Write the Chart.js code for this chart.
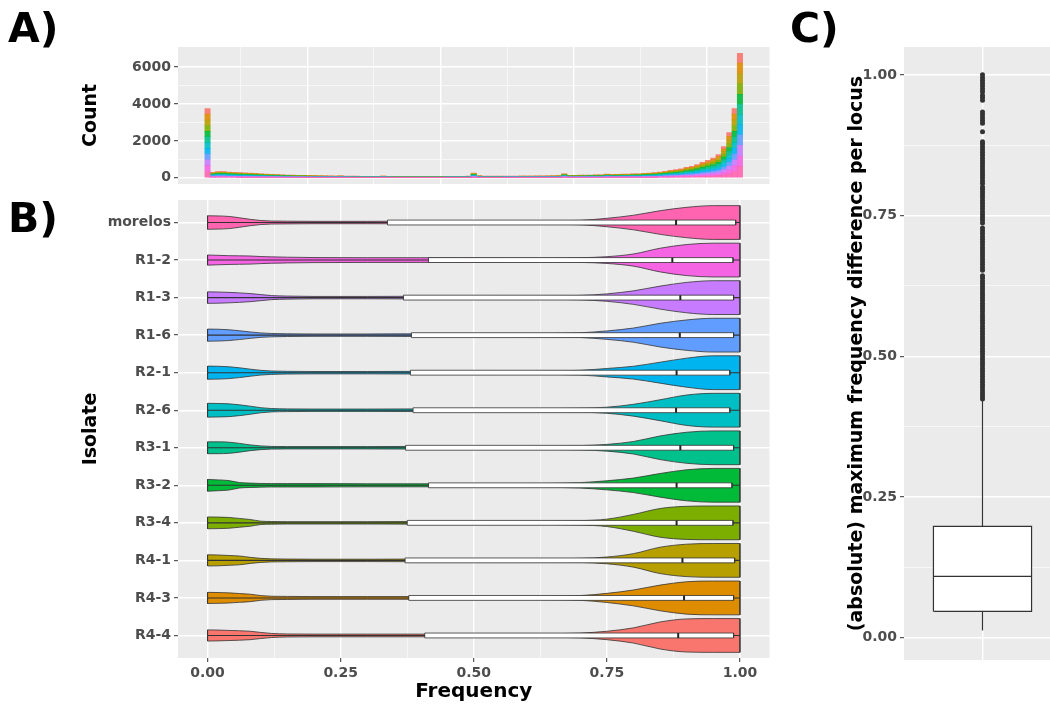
<!DOCTYPE html>
<html>
<head>
<meta charset="utf-8">
<script src="https://cdn.jsdelivr.net/npm/chart.js@4.4.1/dist/chart.umd.min.js"></script>
<style>
html, body { margin: 0; padding: 0; background: #fff; width: 1050px; height: 708px; overflow: hidden; position: relative; }
canvas { position: absolute; left: 0; top: 0; }
.tag { position: absolute; font: bold 41px "DejaVu Sans"; line-height: 41px; color: #000; z-index: 5; }
</style>
</head>
<body>
<canvas id="hist" width="1050" height="708"></canvas>
<canvas id="violin" width="1050" height="708"></canvas>
<canvas id="box" width="1070" height="708"></canvas>
<div class="tag" style="left:8px;top:8px">A)</div>
<div class="tag" style="left:8px;top:198px">B)</div>
<div class="tag" style="left:790px;top:8px">C)</div>
<script>
// isolates, top to bottom as in the figure
var isolates = ['morelos', 'R1-2', 'R1-3', 'R1-6', 'R2-1', 'R2-6', 'R3-1', 'R3-2', 'R3-4', 'R4-1', 'R4-3', 'R4-4'];
var isolateColors = ['#FF64B0', '#F564E3', '#C77CFF', '#619CFF', '#00B4F0', '#00BFC4', '#00C08B', '#00BA38', '#7CAE00', '#B79F00', '#DE8C00', '#F8766D'];

// A) histogram of allele frequency (bin centres, total count per bin, share of each isolate)
var binCenters = [0, 0.01, 0.02, 0.03, 0.04, 0.05, 0.06, 0.07, 0.08, 0.09,
    0.10, 0.11, 0.12, 0.13, 0.14, 0.15, 0.16, 0.17, 0.18, 0.19,
    0.20, 0.21, 0.22, 0.23, 0.24, 0.25, 0.26, 0.27, 0.28, 0.29,
    0.30, 0.31, 0.32, 0.33, 0.34, 0.35, 0.36, 0.37, 0.38, 0.39,
    0.40, 0.41, 0.42, 0.43, 0.44, 0.45, 0.46, 0.47, 0.48, 0.49,
    0.50, 0.51, 0.52, 0.53, 0.54, 0.55, 0.56, 0.57, 0.58, 0.59,
    0.60, 0.61, 0.62, 0.63, 0.64, 0.65, 0.66, 0.67, 0.68, 0.69,
    0.70, 0.71, 0.72, 0.73, 0.74, 0.75, 0.76, 0.77, 0.78, 0.79,
    0.80, 0.81, 0.82, 0.83, 0.84, 0.85, 0.86, 0.87, 0.88, 0.89,
    0.90, 0.91, 0.92, 0.93, 0.94, 0.95, 0.96, 0.97, 0.98, 0.99, 1.00];
var binCounts = [3750, 290, 340, 330, 310, 295, 280, 265, 250, 235,
    220, 200, 185, 170, 160, 150, 140, 135, 130, 125,
    115, 110, 105, 100, 95, 105, 90, 85, 85, 80,
    80, 75, 75, 95, 75, 70, 70, 70, 70, 70,
    70, 70, 70, 70, 70, 75, 75, 75, 80, 85,
    250, 110, 85, 85, 85, 85, 90, 90, 90, 95,
    95, 95, 100, 100, 105, 110, 115, 210, 130, 135,
    140, 145, 150, 160, 165, 200, 180, 185, 195, 200,
    210, 220, 240, 260, 280, 310, 354, 408, 445, 483,
    568, 622, 713, 837, 944, 1072, 1250, 1695, 2445, 3753, 6750];
var isolateShares = [0.09, 0.085, 0.085, 0.085, 0.08, 0.08, 0.085, 0.08, 0.085, 0.08, 0.085, 0.08];
var countTicks = [0, 2000, 4000, 6000];
var countMinor = [1000, 3000, 5000];
var freqTicks = [0, 0.25, 0.5, 0.75, 1];
var freqMinor = [0.125, 0.375, 0.625, 0.875];

// B) violins: half width (relative to the widest) at each frequency
var violinX = [0, 0.02, 0.04, 0.06, 0.08, 0.10, 0.12, 0.15, 0.2, 0.3, 0.4, 0.5, 0.6, 0.7, 0.75, 0.8, 0.85, 0.9, 0.95, 1.0];
var violinWidths = [
    [0.40, 0.39, 0.36, 0.28, 0.19, 0.12, 0.09, 0.08, 0.07, 0.07, 0.08, 0.08, 0.09, 0.13, 0.25, 0.43, 0.70, 0.90, 1.00, 1.00],
    [0.30, 0.28, 0.26, 0.25, 0.24, 0.21, 0.19, 0.17, 0.15, 0.14, 0.14, 0.13, 0.12, 0.14, 0.20, 0.36, 0.70, 0.92, 1.00, 1.00],
    [0.34, 0.33, 0.31, 0.28, 0.24, 0.18, 0.12, 0.09, 0.07, 0.07, 0.08, 0.08, 0.09, 0.13, 0.22, 0.40, 0.68, 0.90, 1.00, 1.00],
    [0.36, 0.35, 0.32, 0.26, 0.19, 0.13, 0.10, 0.08, 0.07, 0.07, 0.08, 0.08, 0.09, 0.14, 0.25, 0.42, 0.70, 0.90, 1.00, 1.00],
    [0.39, 0.38, 0.35, 0.29, 0.21, 0.14, 0.10, 0.08, 0.07, 0.07, 0.08, 0.08, 0.09, 0.14, 0.25, 0.38, 0.62, 0.86, 1.00, 1.00],
    [0.41, 0.40, 0.38, 0.32, 0.24, 0.15, 0.10, 0.08, 0.07, 0.07, 0.08, 0.08, 0.09, 0.12, 0.18, 0.35, 0.62, 0.90, 1.00, 1.00],
    [0.35, 0.35, 0.33, 0.26, 0.17, 0.11, 0.08, 0.07, 0.07, 0.07, 0.08, 0.08, 0.09, 0.13, 0.20, 0.37, 0.70, 0.92, 1.00, 1.00],
    [0.35, 0.32, 0.28, 0.16, 0.13, 0.11, 0.10, 0.10, 0.10, 0.09, 0.09, 0.09, 0.10, 0.16, 0.27, 0.43, 0.70, 0.92, 1.00, 1.00],
    [0.35, 0.34, 0.32, 0.26, 0.20, 0.10, 0.08, 0.07, 0.07, 0.07, 0.08, 0.08, 0.09, 0.13, 0.22, 0.50, 0.85, 0.98, 1.00, 1.00],
    [0.33, 0.32, 0.29, 0.26, 0.18, 0.12, 0.09, 0.08, 0.07, 0.07, 0.08, 0.08, 0.09, 0.12, 0.20, 0.40, 0.78, 0.96, 1.00, 1.00],
    [0.33, 0.32, 0.30, 0.26, 0.22, 0.14, 0.10, 0.09, 0.08, 0.08, 0.08, 0.08, 0.09, 0.14, 0.27, 0.47, 0.76, 0.96, 1.00, 1.00],
    [0.33, 0.32, 0.30, 0.28, 0.25, 0.18, 0.12, 0.09, 0.08, 0.08, 0.08, 0.08, 0.09, 0.14, 0.25, 0.45, 0.80, 0.98, 1.00, 1.00]
];
var freqMin = [0, 0, 0, 0, 0, 0, 0, 0, 0, 0, 0, 0];
var freqQ1 = [0.338, 0.415, 0.368, 0.383, 0.381, 0.386, 0.372, 0.415, 0.375, 0.371, 0.378, 0.408];
var freqMedian = [0.880, 0.873, 0.888, 0.887, 0.881, 0.880, 0.888, 0.881, 0.881, 0.892, 0.895, 0.884];
var freqQ3 = [0.992, 0.987, 0.988, 0.988, 0.981, 0.981, 0.988, 0.985, 0.987, 0.990, 0.988, 0.988];
var freqMax = [1, 1, 1, 1, 1, 1, 1, 1, 1, 1, 1, 1];

// C) max frequency difference per locus
var diffBox = [0.047, 0.109, 0.198];      // q1, median, q3
var diffWhiskers = [0.013, 0.424];
var diffOutliers = [0.424, 0.429, 0.434, 0.439, 0.444, 0.449, 0.454, 0.459, 0.464, 0.469,
    0.474, 0.479, 0.484, 0.489, 0.494, 0.499, 0.504, 0.509, 0.514, 0.519,
    0.524, 0.529, 0.534, 0.539, 0.544, 0.549, 0.554, 0.559, 0.564, 0.569,
    0.574, 0.579, 0.584, 0.589, 0.594, 0.599, 0.604, 0.609, 0.614, 0.619,
    0.624, 0.629, 0.634, 0.639, 0.643, 0.653, 0.658, 0.663, 0.668, 0.673,
    0.678, 0.683, 0.688, 0.693, 0.698, 0.703, 0.708, 0.713, 0.718, 0.723, 0.728,
    0.737, 0.742, 0.747, 0.752, 0.757, 0.762, 0.767, 0.772, 0.777, 0.782, 0.787, 0.792, 0.797, 0.801,
    0.807, 0.812, 0.817, 0.822, 0.827, 0.832, 0.837, 0.842, 0.847, 0.852, 0.857, 0.862, 0.867, 0.872, 0.877, 0.881,
    0.899, 0.914, 0.919, 0.924, 0.929, 0.934, 0.955, 0.960, 0.964,
    0.970, 0.975, 0.980, 0.985, 0.990, 0.995, 1.0];
var diffTicks = [0, 0.25, 0.5, 0.75, 1];
var diffMinor = [0.125, 0.375, 0.625, 0.875];

var PANEL = '#EBEBEB';
var INK = '#333333';
var TICKTXT = '#4D4D4D';
var VIOLIN_HALF = 0.45;
var BOX_HALF = 0.065;
var CBOX_HALF = 0.375;

Chart.defaults.font.family = 'DejaVu Sans';
Chart.defaults.font.weight = 'bold';
Chart.defaults.animation = false;

var panelBg = {
    id: 'panelBg',
    beforeDraw: function (chart) {
        var a = chart.chartArea, ctx = chart.ctx;
        ctx.save();
        ctx.fillStyle = PANEL;
        ctx.fillRect(a.left, a.top, a.right - a.left, a.bottom - a.top);
        ctx.restore();
    }
};

function fixedTicks(majors, minors) {
    return function (scale) {
        var t = majors.map(function (v) { return { value: v }; });
        minors.forEach(function (v) { t.push({ value: v, sub: true }); });
        t.sort(function (a, b) { return a.value - b.value; });
        scale.ticks = t;
    };
}

function gridOpts(drawTicks) {
    return {
        color: '#FFFFFF',
        lineWidth: function (c) { return c.tick && c.tick.sub ? 0.6 : 1.4; },
        drawTicks: drawTicks,
        tickLength: 4,
        tickWidth: 1,
        tickColor: function (c) { return c.tick && c.tick.sub ? 'rgba(0,0,0,0)' : INK; }
    };
}

function label(fmt) {
    return function (value, i, ticks) { return ticks[i].sub ? '' : fmt(value); };
}

function hexA(hex, a) {
    var n = parseInt(hex.slice(1), 16);
    return 'rgba(' + (n >> 16) + ',' + ((n >> 8) & 255) + ',' + (n & 255) + ',' + a + ')';
}

function line(points, color, width, order, extra) {
    var d = { data: points, borderColor: color, borderWidth: width, pointRadius: 0, fill: false, order: order };
    for (var k in extra) d[k] = extra[k];
    return d;
}

var tickFont = { size: 14, weight: 'bold' };
var titleFont = { size: 19, weight: 'bold' };

// ---------- A) histogram ----------
var histSets = isolates.map(function (name, k) {
    return {
        label: name,
        data: binCenters.map(function (x, i) { return { x: x, y: binCounts[i] * isolateShares[k] }; }),
        backgroundColor: hexA(isolateColors[k], 0.9),
        borderWidth: 0,
        barPercentage: 1,
        categoryPercentage: 1
    };
});

new Chart(document.getElementById('hist'), {
    type: 'bar',
    data: { datasets: histSets },
    options: {
        responsive: false,
        events: [],
        layout: { padding: { left: 76, top: 47, right: 280.5, bottom: 524 } },
        plugins: { legend: { display: false }, tooltip: { enabled: false } },
        scales: {
            x: {
                type: 'linear', min: -0.0555, max: 1.0555, offset: false, stacked: true,
                afterBuildTicks: fixedTicks(freqTicks, freqMinor),
                afterFit: function (s) { s.height = 0; },
                ticks: { display: false },
                grid: gridOpts(false),
                border: { display: false }
            },
            y: {
                min: -338, max: 7088, stacked: true,
                afterBuildTicks: fixedTicks(countTicks, countMinor),
                afterFit: function (s) { s.width = 178 - 76; },
                ticks: { autoSkip: false, padding: 3, color: TICKTXT, font: tickFont, callback: label(function (v) { return String(v); }) },
                grid: gridOpts(true),
                border: { display: false },
                title: { display: true, text: 'Count', color: '#000', font: titleFont }
            }
        }
    },
    plugins: [panelBg]
});

// ---------- B) violins with inner boxplots ----------
var violinSets = [];
isolates.forEach(function (name, k) {
    var yc = k + 1;
    var w = violinWidths[k];
    var last = violinX.length - 1;
    var up = violinX.map(function (x, j) { return { x: x, y: yc - w[j] * VIOLIN_HALF }; });
    var dn = violinX.map(function (x, j) { return { x: x, y: yc + w[j] * VIOLIN_HALF }; });
    var smooth = { cubicInterpolationMode: 'monotone' };
    violinSets.push(line(up, INK, 0.8, 5, smooth));
    violinSets.push(line(dn, INK, 0.8, 5, { cubicInterpolationMode: 'monotone', fill: '-1', backgroundColor: isolateColors[k] }));
    violinSets.push(line([up[0], dn[0]], INK, 0.8, 4));
    violinSets.push(line([up[last], dn[last]], INK, 0.8, 4));
    violinSets.push(line([{ x: freqMin[k], y: yc }, { x: freqMax[k], y: yc }], INK, 1.1, 3));
    var q1 = freqQ1[k], q3 = freqQ3[k];
    var bt = [{ x: q1, y: yc - BOX_HALF }, { x: q3, y: yc - BOX_HALF }];
    var bb = [{ x: q1, y: yc + BOX_HALF }, { x: q3, y: yc + BOX_HALF }];
    violinSets.push(line(bt, 'rgba(0,0,0,0)', 0, 2));
    violinSets.push(line(bb, 'rgba(0,0,0,0)', 0, 2, { fill: '-1', backgroundColor: '#FFFFFF' }));
    violinSets.push(line([bt[0], bt[1], bb[1], bb[0], bt[0]], INK, 0.8, 1));
    violinSets.push(line([{ x: freqMedian[k], y: yc - BOX_HALF }, { x: freqMedian[k], y: yc + BOX_HALF }], '#222222', 2, 0));
});

new Chart(document.getElementById('violin'), {
    type: 'line',
    data: { datasets: violinSets },
    options: {
        responsive: false,
        events: [],
        layout: { padding: { left: 76, top: 200, right: 280.5, bottom: 0 } },
        plugins: { legend: { display: false }, tooltip: { enabled: false } },
        scales: {
            x: {
                type: 'linear', min: -0.0555, max: 1.0555,
                afterBuildTicks: fixedTicks(freqTicks, freqMinor),
                afterFit: function (s) { s.height = 50; },
                ticks: { autoSkip: false, maxRotation: 0, padding: 3, color: TICKTXT, font: tickFont, callback: label(function (v) { return v.toFixed(2); }) },
                grid: gridOpts(true),
                border: { display: false },
                title: { display: true, text: 'Frequency', color: '#000', font: { size: 20, weight: 'bold' }, padding: { top: 0, bottom: 4 } }
            },
            y: {
                type: 'linear', min: 0.4, max: 12.6, reverse: true,
                afterBuildTicks: function (s) { s.ticks = isolates.map(function (n, i) { return { value: i + 1 }; }); },
                afterFit: function (s) { s.width = 178 - 76; },
                ticks: { autoSkip: false, padding: 3, color: TICKTXT, font: tickFont, callback: function (v) { return isolates[Math.round(v) - 1]; } },
                grid: gridOpts(true),
                border: { display: false },
                title: { display: true, text: 'Isolate', color: '#000', font: titleFont }
            }
        }
    },
    plugins: [panelBg]
});

// ---------- C) boxplot of max frequency difference ----------
var cq1 = diffBox[0], cmed = diffBox[1], cq3 = diffBox[2];
var cTop = [{ x: 1 - CBOX_HALF, y: cq3 }, { x: 1 + CBOX_HALF, y: cq3 }];
var cBot = [{ x: 1 - CBOX_HALF, y: cq1 }, { x: 1 + CBOX_HALF, y: cq1 }];
var boxSets = [
    line(diffOutliers.map(function (v) { return { x: 1, y: v }; }), INK, 0, 0,
        { showLine: false, pointRadius: 2.5, pointBorderWidth: 0, pointBackgroundColor: INK }),
    line([{ x: 1, y: diffWhiskers[0] }, { x: 1, y: cq1 }], INK, 1.2, 1),
    line([{ x: 1, y: cq3 }, { x: 1, y: diffWhiskers[1] }], INK, 1.2, 1),
    line([{ x: 1 - CBOX_HALF, y: cmed }, { x: 1 + CBOX_HALF, y: cmed }], INK, 1.4, 1),
    line([cBot[0], cTop[0], cTop[1], cBot[1], cBot[0]], INK, 1.2, 2),
    line(cTop, 'rgba(0,0,0,0)', 0, 3),
    line(cBot, 'rgba(0,0,0,0)', 0, 3, { fill: '-1', backgroundColor: '#FFFFFF' })
];

new Chart(document.getElementById('box'), {
    type: 'line',
    data: { datasets: boxSets },
    options: {
        responsive: false,
        events: [],
        layout: { padding: { left: 842, top: 47, right: 9, bottom: 48 } },
        plugins: { legend: { display: false }, tooltip: { enabled: false } },
        scales: {
            x: {
                type: 'linear', min: 0.4, max: 1.6,
                afterBuildTicks: function (s) { s.ticks = [{ value: 1 }]; },
                afterFit: function (s) { s.height = 0; },
                ticks: { display: false },
                grid: gridOpts(false),
                border: { display: false }
            },
            y: {
                type: 'linear', min: -0.0395, max: 1.0495,
                afterBuildTicks: fixedTicks(diffTicks, diffMinor),
                afterFit: function (s) { s.width = 904 - 842; },
                ticks: { autoSkip: false, padding: 3, color: TICKTXT, font: tickFont, callback: label(function (v) { return v.toFixed(2); }) },
                grid: gridOpts(true),
                border: { display: false },
                title: { display: true, text: '(absolute) maximum frequency difference per locus', color: '#000', font: titleFont }
            }
        }
    },
    plugins: [panelBg]
});
</script>
</body>
</html>
